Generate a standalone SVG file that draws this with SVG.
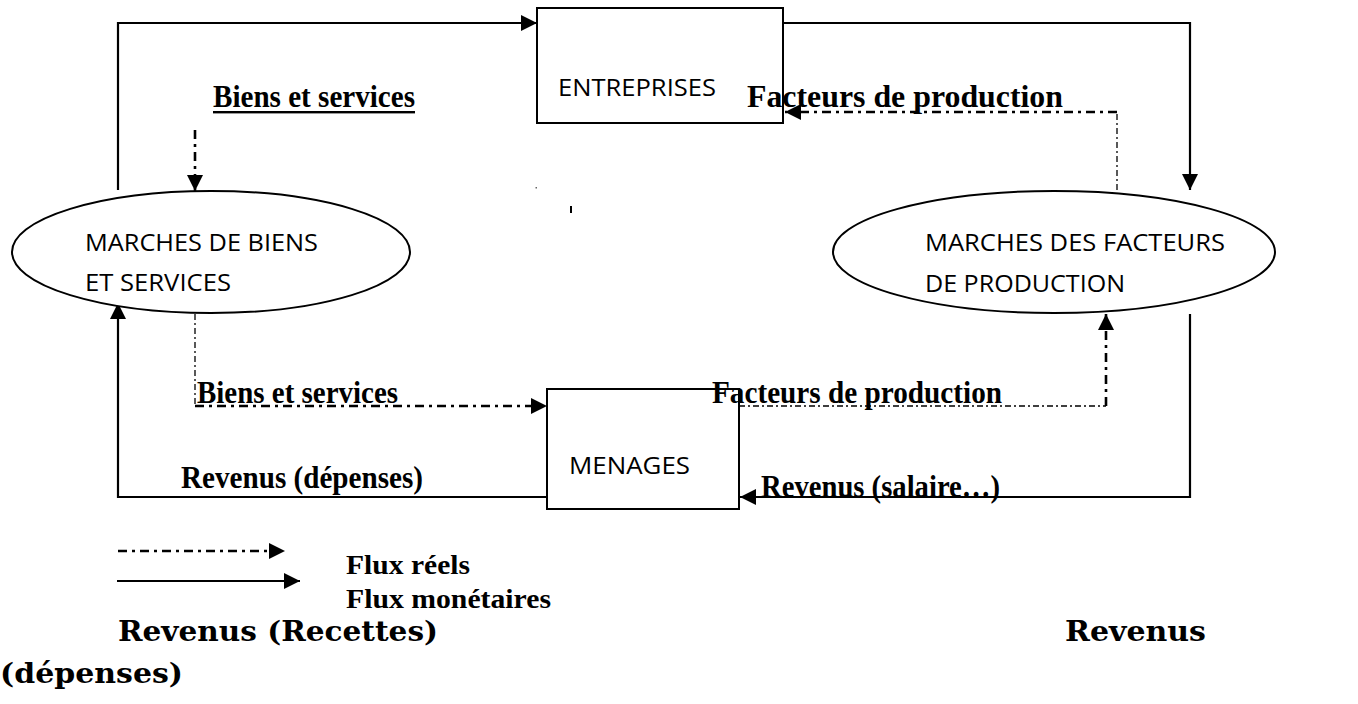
<svg xmlns="http://www.w3.org/2000/svg" width="1358" height="704" viewBox="0 0 1358 704">
<style>
.box{fill:#fff;stroke:#000;stroke-width:2}
.ell{fill:#fff;stroke:#000;stroke-width:2}
.node{font-family:"Open Sans","Liberation Sans",sans-serif;font-size:24px;fill:#000}
.lbl{font-family:"Liberation Serif","Times New Roman",serif;font-weight:bold;font-size:31px;fill:#000}
.leg{font-family:"Liberation Serif","Times New Roman",serif;font-weight:bold;font-size:27px;fill:#000}
.slab{font-family:"DejaVu Serif",serif;font-weight:bold;font-size:28px;fill:#000}
.solid{fill:none;stroke:#000;stroke-width:2.2}
.real{fill:none;stroke:#000;stroke-width:2.6;stroke-dasharray:9 5 3 5}
.realthin{fill:none;stroke:#000;stroke-width:1.3;stroke-dasharray:6 3 2 3}
</style>
<defs>
<marker id="ah" viewBox="0 0 16 16" refX="16" refY="8" markerWidth="16" markerHeight="16" markerUnits="userSpaceOnUse" orient="auto">
<path d="M0,0 L16,8 L0,16 Z" fill="#000"/>
</marker>
</defs>
<rect width="1358" height="704" fill="#fff"/>
<g id="connectors">
<path class="solid" d="M118,190 V23 H537" marker-end="url(#ah)"/>
<path class="solid" d="M783,23 H1190 V190" marker-end="url(#ah)"/>
<path class="real" d="M195,130 V191" marker-end="url(#ah)"/>
<path class="realthin" d="M1117,190 V112"/>
<path class="real" d="M1117,112 H785" marker-end="url(#ah)"/>
<path class="solid" d="M547,497 H118 V303" marker-end="url(#ah)"/>
<path class="realthin" d="M195,314 V406"/>
<path class="real" d="M195,406 H547" marker-end="url(#ah)"/>
<path class="realthin" d="M739,406 H1106"/>
<path class="real" d="M1106,406 V314" marker-end="url(#ah)"/>
<path class="solid" d="M1190,314 V497 H740" marker-end="url(#ah)"/>
<rect x="535.5" y="187" width="1.5" height="1.5" fill="#666"/>
<rect x="570" y="206" width="2" height="7" fill="#000"/>
</g>
<g id="entreprises">
<rect class="box" x="537" y="8" width="246" height="115"/>
<text class="node" x="558" y="96" textLength="158" lengthAdjust="spacingAndGlyphs">ENTREPRISES</text>
</g>
<g id="marches-biens">
<ellipse class="ell" cx="211" cy="252" rx="199" ry="61"/>
<text class="node" x="85" y="251" font-size="26" textLength="233" lengthAdjust="spacingAndGlyphs">MARCHES DE BIENS</text>
<text class="node" x="85" y="291" font-size="26" textLength="146" lengthAdjust="spacingAndGlyphs">ET SERVICES</text>
</g>
<g id="marches-facteurs">
<ellipse class="ell" cx="1054" cy="252" rx="221" ry="61"/>
<text class="node" x="925" y="251" font-size="26" textLength="300" lengthAdjust="spacingAndGlyphs">MARCHES DES FACTEURS</text>
<text class="node" x="925" y="292" font-size="26" textLength="200" lengthAdjust="spacingAndGlyphs">DE PRODUCTION</text>
</g>
<g id="menages">
<rect class="box" x="547" y="389" width="192" height="120"/>
<text class="node" x="569" y="474" textLength="121" lengthAdjust="spacingAndGlyphs">MENAGES</text>
</g>
<g id="labels">
<text class="lbl" x="213" y="107" textLength="202" lengthAdjust="spacingAndGlyphs">Biens et services</text>
<rect x="213" y="111" width="202" height="2.4" fill="#000"/>
<text class="lbl" x="747" y="107" textLength="316" lengthAdjust="spacingAndGlyphs">Facteurs de production</text>
<text class="lbl" x="197" y="403" textLength="201" lengthAdjust="spacingAndGlyphs">Biens et services</text>
<text class="lbl" x="181" y="488" textLength="242" lengthAdjust="spacingAndGlyphs">Revenus (dépenses)</text>
<text class="lbl" x="712" y="403" textLength="290" lengthAdjust="spacingAndGlyphs">Facteurs de production</text>
<text class="lbl" x="761" y="497" textLength="239" lengthAdjust="spacingAndGlyphs">Revenus (salaire…)</text>
</g>
<g id="legend">
<path class="real" d="M118,551 H285" marker-end="url(#ah)"/>
<path class="solid" d="M117,581 H300" marker-end="url(#ah)"/>
<text class="leg" x="346" y="574" textLength="124" lengthAdjust="spacingAndGlyphs">Flux réels</text>
<text class="leg" x="346" y="608" textLength="205" lengthAdjust="spacingAndGlyphs">Flux monétaires</text>
<text class="slab" x="118" y="641" textLength="320" lengthAdjust="spacingAndGlyphs">Revenus  (Recettes)</text>
<text class="slab" x="1065" y="641" textLength="141" lengthAdjust="spacingAndGlyphs">Revenus</text>
<text class="slab" x="0" y="683" textLength="183" lengthAdjust="spacingAndGlyphs">(dépenses)</text>
</g>
</svg>
